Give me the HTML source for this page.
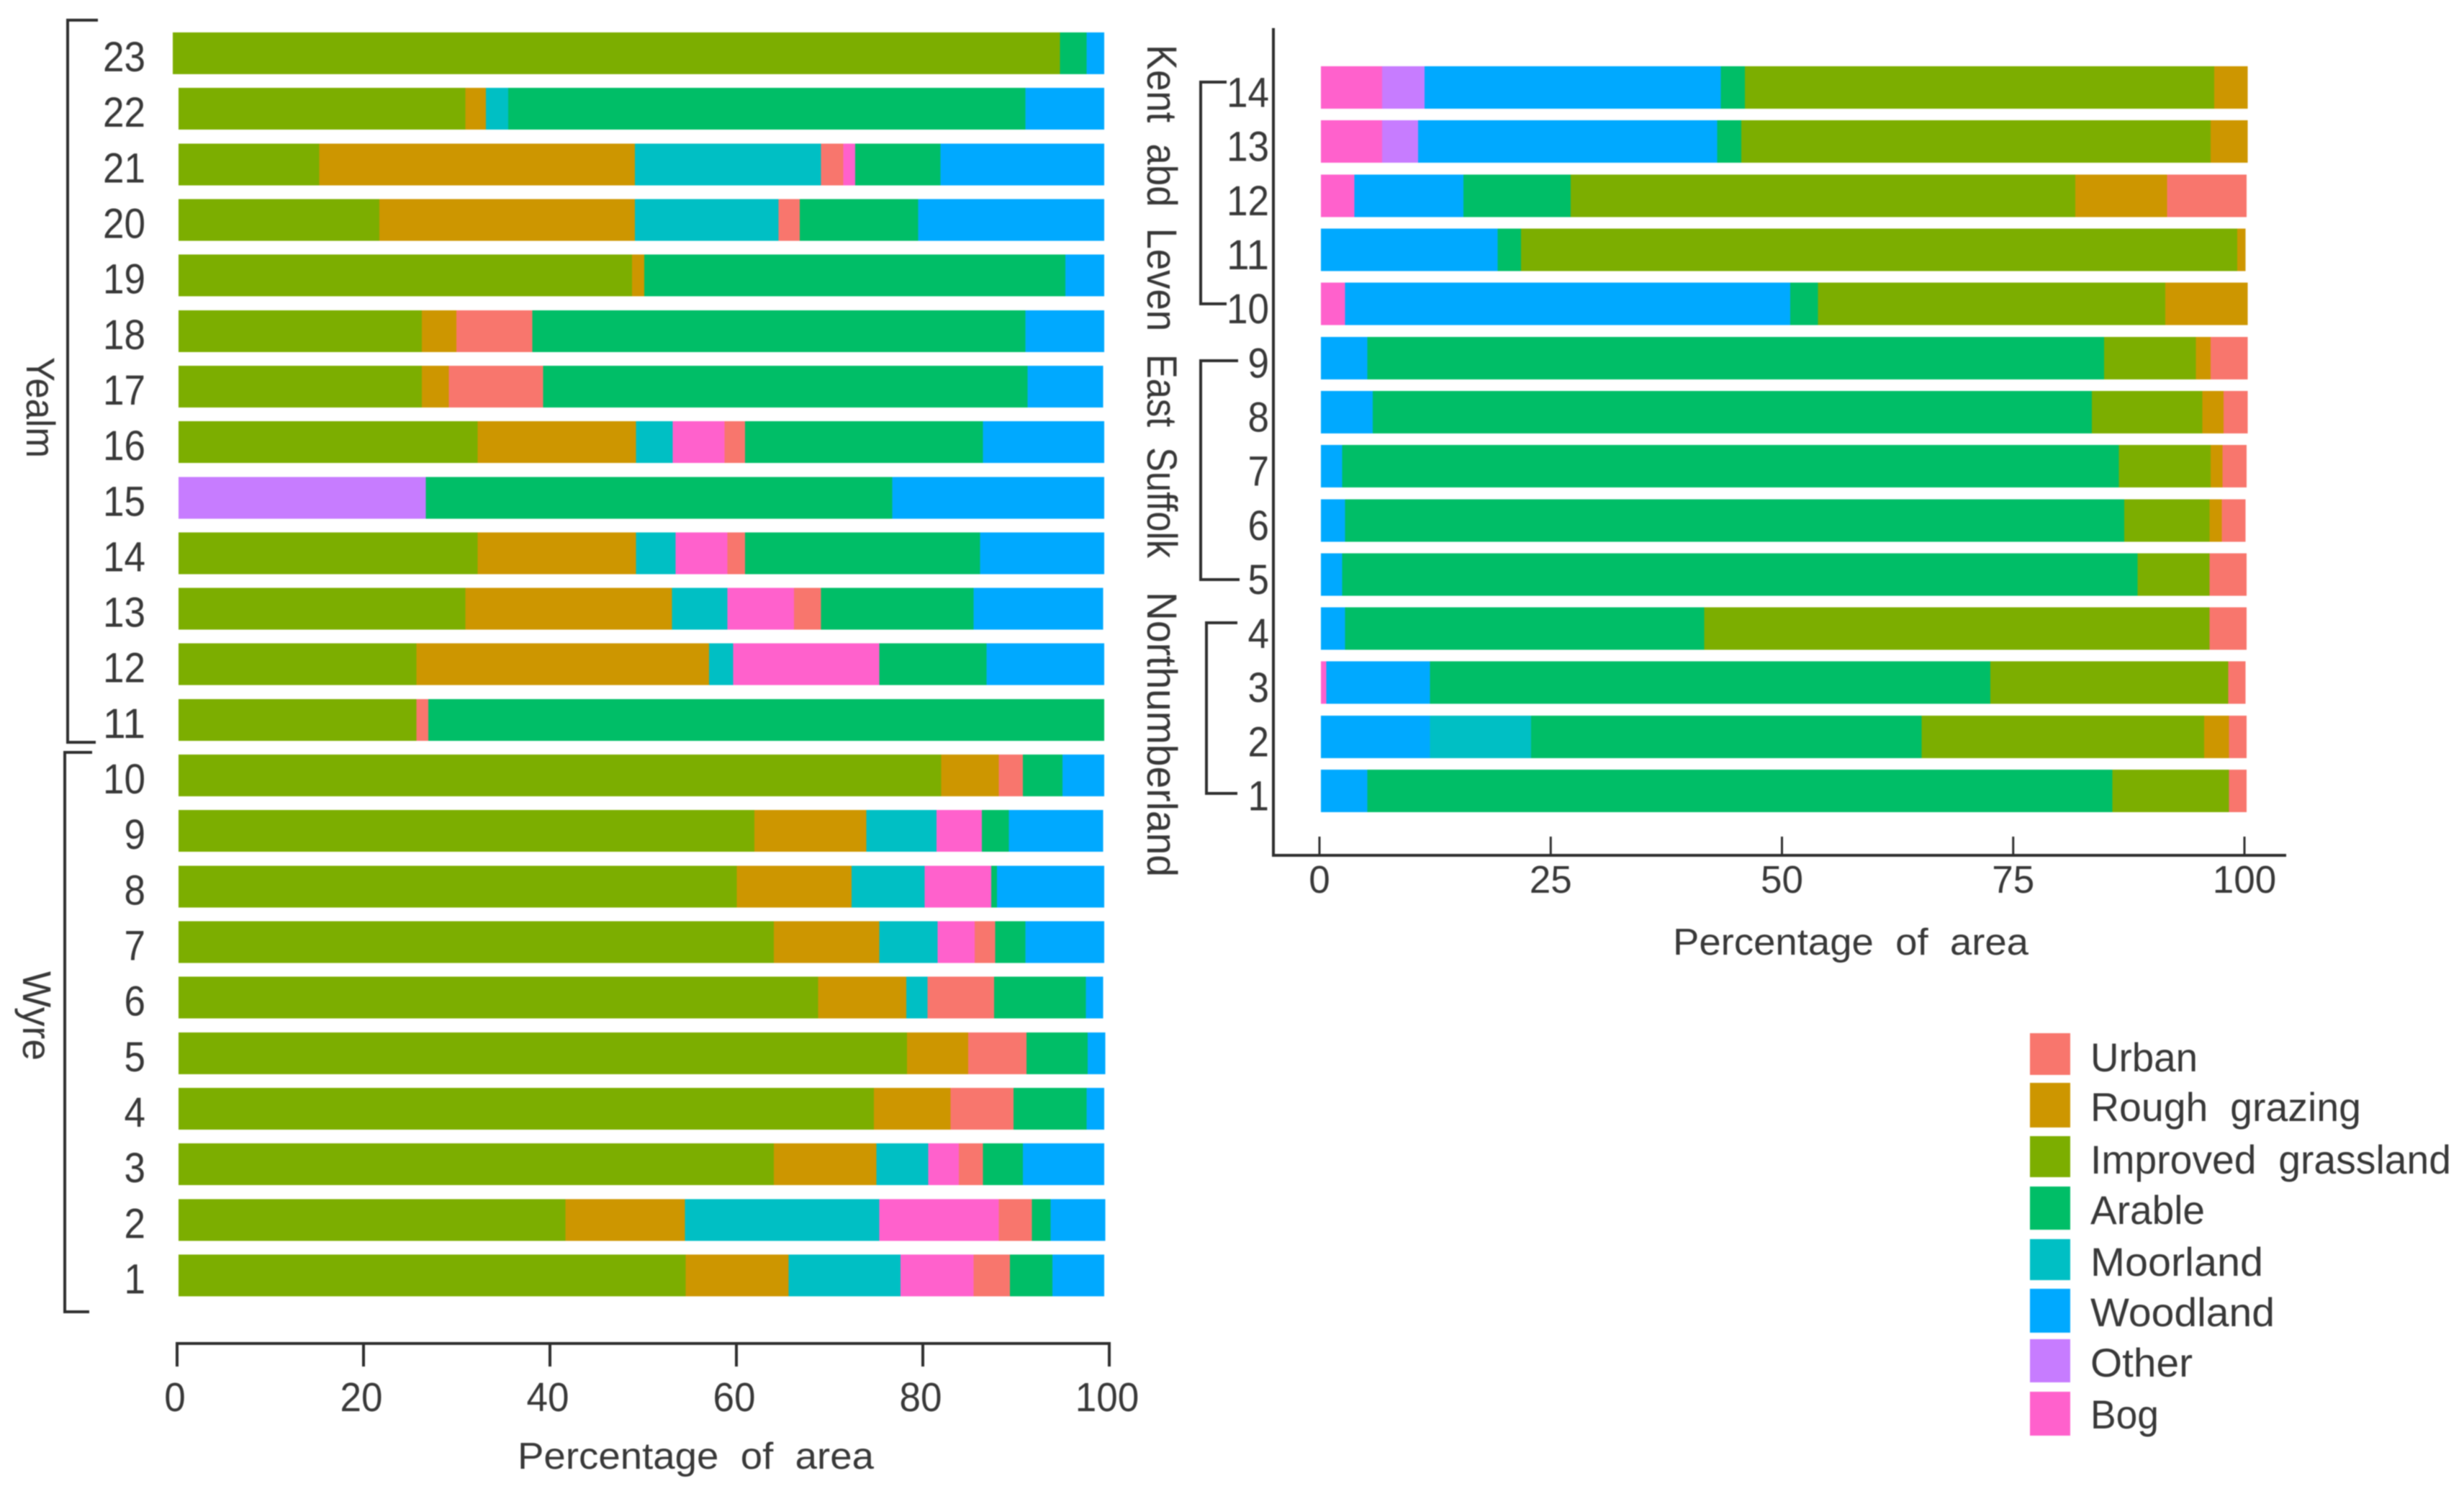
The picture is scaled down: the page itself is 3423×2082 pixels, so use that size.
<!DOCTYPE html>
<html lang="en">
<head>
<meta charset="utf-8">
<title>Land cover percentage of area by catchment</title>
<style>
  html, body { margin: 0; padding: 0; background: #fff; }
  svg { display: block; filter: blur(0.8px); }
  text { font-family: "Liberation Sans", "Noto Sans CJK SC", sans-serif; fill: #383838; }
  .bk { fill: none; stroke: #2e2e2e; stroke-width: 4; }
</style>
</head>
<body>
<svg id="chart" xmlns="http://www.w3.org/2000/svg" width="3423" height="2082" viewBox="0 0 3423 2082">
  <rect width="3423" height="2082" fill="#ffffff"/>
  <g id="left-panel"></g>
  <g id="right-panel"></g>

  <path class="bk" d="M136 28H94V1031H133"/>
  <path class="bk" d="M128 1045H90V1822H124"/>
  <text transform="translate(37,496) rotate(90)" font-size="56" textLength="140" lengthAdjust="spacingAndGlyphs">Yealm</text>
  <text transform="translate(32,1349) rotate(90)" font-size="56" textLength="124" lengthAdjust="spacingAndGlyphs">Wyre</text>

  <path class="bk" d="M1704 114H1668V422H1704"/>
  <path class="bk" d="M1720 501H1668V805H1722"/>
  <path class="bk" d="M1719 865H1676V1102H1719"/>
  <text transform="translate(1594,62) rotate(90)" font-size="58" textLength="398" lengthAdjust="spacingAndGlyphs" xml:space="preserve">Kent  abd  Leven</text>
  <text transform="translate(1594,492) rotate(90)" font-size="58" textLength="283" lengthAdjust="spacingAndGlyphs" xml:space="preserve">East  Suffolk</text>
  <text transform="translate(1594,822) rotate(90)" font-size="58" textLength="396" lengthAdjust="spacingAndGlyphs">Northumberland</text>

  <text x="719" y="2040" font-size="52" textLength="495" lengthAdjust="spacingAndGlyphs" xml:space="preserve">Percentage  of  area</text>
  <text x="2324" y="1326" font-size="52" textLength="494" lengthAdjust="spacingAndGlyphs" xml:space="preserve">Percentage  of  area</text>

  <g>
    <g>
      <rect x="2820" y="1435" width="56" height="58" fill="#F8766D"/>
      <text x="2904" y="1488" font-size="56" textLength="149" lengthAdjust="spacingAndGlyphs">Urban</text>
    </g>
    <g>
      <rect x="2820" y="1504" width="56" height="62" fill="#CD9600"/>
      <text x="2904" y="1557" font-size="56" textLength="376" lengthAdjust="spacingAndGlyphs" xml:space="preserve">Rough  grazing</text>
    </g>
    <g>
      <rect x="2820" y="1578" width="56" height="57" fill="#7CAE00"/>
      <text x="2904" y="1630" font-size="56" textLength="501" lengthAdjust="spacingAndGlyphs" xml:space="preserve">Improved  grassland</text>
    </g>
    <g>
      <rect x="2820" y="1648" width="56" height="60" fill="#00BE67"/>
      <text x="2904" y="1700" font-size="56" textLength="159" lengthAdjust="spacingAndGlyphs">Arable</text>
    </g>
    <g>
      <rect x="2820" y="1721" width="56" height="57" fill="#00BFC4"/>
      <text x="2904" y="1772" font-size="56" textLength="240" lengthAdjust="spacingAndGlyphs">Moorland</text>
    </g>
    <g>
      <rect x="2820" y="1790" width="56" height="61" fill="#00A9FF"/>
      <text x="2904" y="1842" font-size="56" textLength="256" lengthAdjust="spacingAndGlyphs">Woodland</text>
    </g>
    <g>
      <rect x="2820" y="1860" width="56" height="60" fill="#C77CFF"/>
      <text x="2904" y="1912" font-size="56" textLength="142" lengthAdjust="spacingAndGlyphs">Other</text>
    </g>
    <g>
      <rect x="2820" y="1933" width="56" height="61" fill="#FF61CC"/>
      <text x="2904" y="1984" font-size="56" textLength="95" lengthAdjust="spacingAndGlyphs">Bog</text>
    </g>
  </g>
</svg>

<script>
// ---- Left panel data (rows 1 to 23, bottom to top) ----
const leftCategories = [1,2,3,4,5,6,7,8,9,10,11,12,13,14,15,16,17,18,19,20,21,22,23];
const leftImproved = [54.8,41.8,64.3,75.1,78.7,69.1,64.3,60.3,62.2,82.4,25.7,25.7,31.0,32.3,0,32.3,26.3,26.3,49.0,21.7,15.2,31.0,95.2];
const leftRough    = [11.1,12.9,11.1,8.3,6.6,9.5,11.4,12.4,12.1,6.2,0,31.6,22.3,17.1,0,17.1,2.9,3.7,1.3,27.6,34.1,2.2,0];
const leftMoorland = [12.1,21.0,5.6,0,0,2.3,6.3,7.9,7.6,0,0,2.6,6.0,4.3,0,4.0,0,0,0,15.5,20.1,2.4,0];
const leftBog      = [7.9,12.9,3.3,0,0,0,4.0,7.2,4.9,0,0,15.8,7.2,5.6,0,5.6,0,0,0,0,1.3,0,0];
const leftUrban    = [3.9,3.6,2.6,6.8,6.3,7.2,2.2,0,0,2.6,1.3,0,2.9,1.9,0,2.2,10.2,8.2,0,2.3,2.4,0,0];
const leftOther    = [0,0,0,0,0,0,0,0,0,0,0,0,0,0,26.7,0,0,0,0,0,0,0,0];
const leftArable   = [4.6,2.0,4.3,7.9,6.6,9.9,3.3,0.6,2.9,4.3,73.0,11.6,16.5,25.4,50.4,25.7,52.3,53.3,45.5,12.8,9.2,55.9,2.9];
const leftWoodland = [5.6,5.9,8.8,1.9,1.9,1.9,8.5,11.6,10.2,4.5,0,12.7,14.0,13.4,22.9,13.1,8.2,8.5,4.2,20.1,17.7,8.5,1.9];
const leftTicks = [0,20,40,60,80,100];

// ---- Right panel data (rows 1 to 14, bottom to top) ----
const rightCategories = [1,2,3,4,5,6,7,8,9,10,11,12,13,14];
const rightBog      = [0,0,0.6,0,0,0,0,0,0,2.6,0,3.6,6.6,6.6];
const rightOther    = [0,0,0,0,0,0,0,0,0,0,0,0,3.9,4.6];
const rightWoodland = [5.0,11.8,11.2,2.6,2.3,2.6,2.3,5.6,5.0,48.1,19.1,11.8,32.3,32.0];
const rightMoorland = [0,10.9,0,0,0,0,0,0,0,0,0,0,0,0];
const rightArable   = [80.5,42.2,60.5,38.8,85.9,84.2,83.9,77.7,79.6,3.0,2.5,11.6,2.6,2.6];
const rightImproved = [12.6,30.5,25.7,54.6,7.8,9.2,9.9,11.9,9.9,37.5,77.4,54.5,50.7,50.7];
const rightRough    = [0,2.7,0,0,0,1.3,1.3,2.3,1.6,8.9,0.9,9.9,4.0,3.6];
const rightUrban    = [1.9,1.9,1.9,4.0,4.0,2.6,2.6,2.6,4.0,0,0,8.6,0,0];
const rightTicks = [0,25,50,75,100];

const colors = {
  improved: '#7CAE00', rough: '#CD9600', moorland: '#00BFC4', bog: '#FF61CC',
  urban: '#F8766D', other: '#C77CFF', arable: '#00BE67', woodland: '#00A9FF'
};
const NS = 'http://www.w3.org/2000/svg';

function make(tag, attrs, parent) {
  const el = document.createElementNS(NS, tag);
  for (const k in attrs) el.setAttribute(k, attrs[k]);
  parent.appendChild(el);
  return el;
}
function labelWidth(s) { return s.length * 29.5; }

function drawRows(cfg) {
  cfg.categories.forEach(function (cat, i) {
    let cum = 0;
    const order = cfg.orderFor(i);
    const yc = cfg.y(i);
    order.forEach(function (key) {
      const v = cfg.series[key][i];
      if (!v) return;
      const x0 = cfg.x(cum) - (cum === 0 ? cfg.leftExtra(i) : 0);
      const x1 = cfg.x(cum + v);
      const r = make('rect', { x: x0, y: yc - cfg.barH / 2, width: x1 - x0, height: cfg.barH, fill: colors[key], 'shape-rendering': 'crispEdges' }, cfg.parent);
      
      
      cum += v;
    });
    const t = make('text', { x: cfg.labelX, y: yc + cfg.labelDy, 'font-size': 58, 'text-anchor': 'end', textLength: labelWidth(String(cat)), lengthAdjust: 'spacingAndGlyphs' }, cfg.parent);
    t.textContent = cat;
    
    
  });
}

// ---- Left panel ----
const leftPanel = document.getElementById('left-panel');
const leftX = function (v) { return 248 + v * 12.86; };
const leftY = function (i) { return 1771.5 - i * 77.16; };
const leftTickX = function (v) { return 246 + v * 12.95; };
const leftStack = ['improved','rough','moorland','bog','urban','other','arable','woodland'];
const leftStackRow21 = ['improved','rough','moorland','urban','bog','other','arable','woodland'];
drawRows({
  categories: leftCategories, parent: leftPanel, prefix: 'left',
  series: { improved: leftImproved, rough: leftRough, moorland: leftMoorland, bog: leftBog, urban: leftUrban, other: leftOther, arable: leftArable, woodland: leftWoodland },
  orderFor: function (i) { return leftCategories[i] === 21 ? leftStackRow21 : leftStack; },
  leftExtra: function (i) { return leftCategories[i] === 23 ? 8 : 0; },
  x: leftX, y: leftY, barH: 58, labelX: 202, labelDy: 25
});

const leftAxisLine = make('line', { x1: leftTickX(0) - 2, x2: leftTickX(100) + 2, y1: 1866, y2: 1866, stroke: '#2e2e2e', 'stroke-width': 4 }, leftPanel);


leftTicks.forEach(function (v) {
  const tick = make('line', { x1: leftTickX(v), x2: leftTickX(v), y1: 1866, y2: 1898, stroke: '#2e2e2e', 'stroke-width': 4 }, leftPanel);
  
  
  const lab = make('text', { x: leftTickX(v) - 3, y: 1960, 'font-size': 57, 'text-anchor': 'middle', textLength: labelWidth(String(v)), lengthAdjust: 'spacingAndGlyphs' }, leftPanel);
  lab.textContent = v;
  
  
});

// ---- Right panel ----
const rightPanel = document.getElementById('right-panel');
const rightX = function (v) { return 1835 + v * 12.86; };
const rightY = function (i) { return 1098.5 - i * 75.15; };
const rightTickX = function (v) { return 1833 + v * 12.85; };
const rightStack = ['bog','other','woodland','moorland','arable','improved','rough','urban'];
drawRows({
  categories: rightCategories, parent: rightPanel, prefix: 'right',
  series: { bog: rightBog, other: rightOther, woodland: rightWoodland, moorland: rightMoorland, arable: rightArable, improved: rightImproved, rough: rightRough, urban: rightUrban },
  orderFor: function () { return rightStack; },
  leftExtra: function () { return 0; },
  x: rightX, y: rightY, barH: 59, labelX: 1763, labelDy: 27
});

const rightYAxis = make('line', { x1: 1769, x2: 1769, y1: 39, y2: 1190, stroke: '#2e2e2e', 'stroke-width': 4 }, rightPanel);


const rightXAxis = make('line', { x1: 1767, x2: 3176, y1: 1188, y2: 1188, stroke: '#2e2e2e', 'stroke-width': 4 }, rightPanel);


rightTicks.forEach(function (v) {
  const tick = make('line', { x1: rightTickX(v), x2: rightTickX(v), y1: 1162, y2: 1188, stroke: '#2e2e2e', 'stroke-width': 3 }, rightPanel);
  
  
  const lab = make('text', { x: rightTickX(v), y: 1240, 'font-size': 54, 'text-anchor': 'middle', textLength: labelWidth(String(v)), lengthAdjust: 'spacingAndGlyphs' }, rightPanel);
  lab.textContent = v;
  
  
});
</script>
</body>
</html>
